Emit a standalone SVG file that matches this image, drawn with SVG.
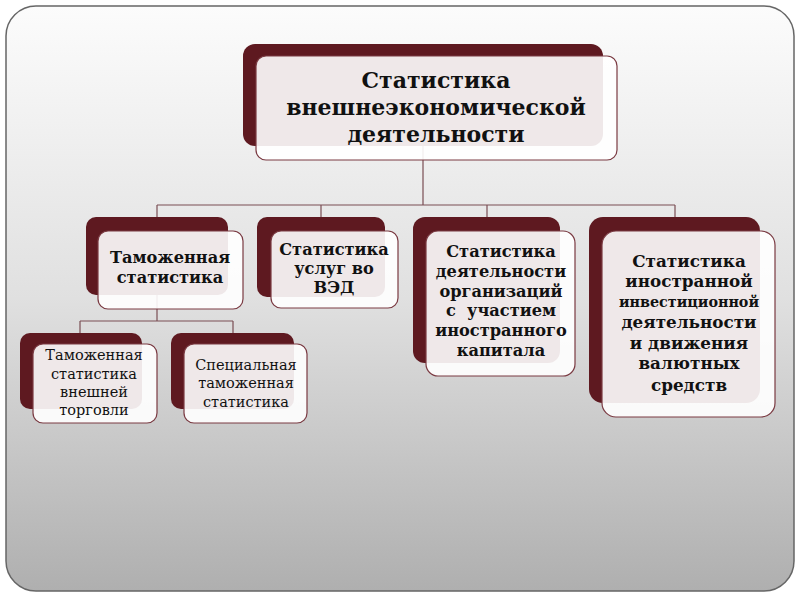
<svg xmlns="http://www.w3.org/2000/svg" width="800" height="600" viewBox="0 0 800 600">
<defs>
<linearGradient id="bg" x1="0" y1="0" x2="0" y2="1">
<stop offset="0" stop-color="#fcfcfc"/>
<stop offset="0.5" stop-color="#e0e0e0"/>
<stop offset="1" stop-color="#afafaf"/>
</linearGradient>
<style>
.back{fill:#5e1920;}
.front{fill:#ffffff;fill-opacity:0.9;stroke:#7a3a42;stroke-width:1.2;}
.conn{fill:none;stroke:#7a4e54;stroke-width:1.2;}
text{font-family:"DejaVu Serif","Liberation Serif",serif;fill:#111;text-anchor:middle;}
.t0{font-size:22px;font-weight:bold;}
.t1{font-size:16.2px;font-weight:bold;}
.t4{font-size:16.8px;font-weight:bold;}
.t2{font-size:14.5px;}
</style>
</defs>
<rect x="0" y="0" width="800" height="600" fill="#ffffff"/>
<rect x="6" y="6" width="788" height="585" rx="30" ry="30" fill="url(#bg)" stroke="#666" stroke-width="1.5"/>
<g id="connectors">
<path class="conn" d="M423,145 V205 M157,205 H675 M157,205 V217 M321,205 V217 M487,205 V217 M675,205 V217"/>
<path class="conn" d="M157,295 V321 M80,321 H233 M80,321 V333 M233,321 V333"/>
</g>
<g id="node-root">
<rect class="back" x="243" y="44" width="360" height="102" rx="12"/>
<rect class="front" x="256" y="56" width="361" height="104" rx="10"/>
<text class="t0" x="436" y="88">Статистика</text>
<text class="t0" x="436" y="115">внешнеэкономической</text>
<text class="t0" x="436" y="142">деятельности</text>
</g>
<g id="node-customs">
<rect class="back" x="86" y="217" width="142" height="78" rx="10"/>
<rect class="front" x="98" y="231" width="145" height="78" rx="10"/>
<text class="t1" x="170" y="263">Таможенная</text>
<text class="t1" x="170" y="283">статистика</text>
</g>
<g id="node-services">
<rect class="back" x="257" y="217" width="128" height="80" rx="10"/>
<rect class="front" x="271" y="231" width="127" height="77" rx="10"/>
<text class="t1" x="334" y="255">Статистика</text>
<text class="t1" x="334" y="274">услуг во</text>
<text class="t1" x="334" y="293">ВЭД</text>
</g>
<g id="node-organizations">
<rect class="back" x="413" y="217" width="147" height="146" rx="12"/>
<rect class="front" x="426" y="231" width="149" height="145" rx="12"/>
<text class="t1" x="501" y="257">Статистика</text>
<text class="t1" x="501" y="277">деятельности</text>
<text class="t1" x="501" y="297">организаций</text>
<text class="t1" x="501" y="316" xml:space="preserve">с  участием</text>
<text class="t1" x="501" y="336">иностранного</text>
<text class="t1" x="501" y="356">капитала</text>
</g>
<g id="node-investment">
<rect class="back" x="589" y="217" width="171" height="186" rx="14"/>
<rect class="front" x="602" y="231" width="173" height="186" rx="14"/>
<text class="t4" x="689" y="267">Статистика</text>
<text class="t4" x="689" y="287">иностранной</text>
<text class="t4" x="689" y="307" style="font-size:14.3px">инвестиционной</text>
<text class="t4" x="689" y="328">деятельности</text>
<text class="t4" x="689" y="349">и движения</text>
<text class="t4" x="689" y="369">валютных</text>
<text class="t4" x="689" y="391">средств</text>
</g>
<g id="node-foreign-trade">
<rect class="back" x="20" y="333" width="122" height="76" rx="10"/>
<rect class="front" x="33" y="344" width="124" height="79" rx="10"/>
<text class="t2" x="94" y="360">Таможенная</text>
<text class="t2" x="94" y="379">статистика</text>
<text class="t2" x="94" y="397">внешней</text>
<text class="t2" x="94" y="415">торговли</text>
</g>
<g id="node-special">
<rect class="back" x="171" y="333" width="123" height="76" rx="10"/>
<rect class="front" x="184" y="344" width="123" height="79" rx="10"/>
<text class="t2" x="246" y="370">Специальная</text>
<text class="t2" x="246" y="388">таможенная</text>
<text class="t2" x="246" y="407">статистика</text>
</g>
</svg>
